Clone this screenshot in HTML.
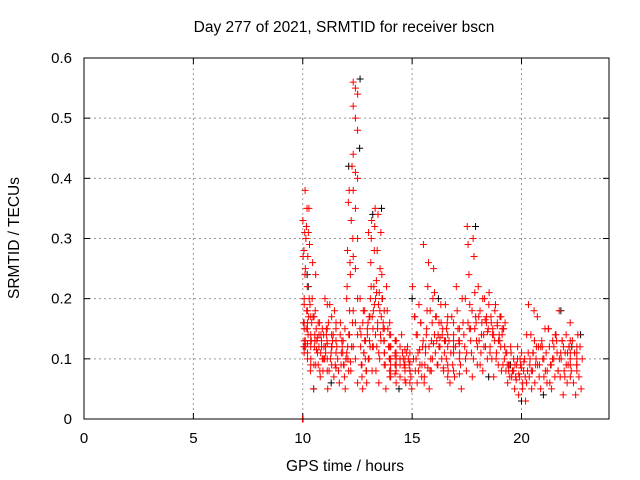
<!DOCTYPE html>
<html><head><meta charset="utf-8"><style>
body{margin:0;background:#fff}
svg{display:block;font-family:"Liberation Sans",sans-serif}
</style></head><body>
<svg id="chart" width="640" height="480">
<text x="344" y="32" font-size="15.5" text-anchor="middle">Day 277 of 2021, SRMTID for receiver bscn</text>
<text x="345" y="471" font-size="15.5" text-anchor="middle">GPS time / hours</text>
<text transform="translate(19,238) rotate(-90)" font-size="15.5" text-anchor="middle">SRMTID / TECUs</text>
<g id="grid"></g>
<g id="axes"></g>
<g id="black"></g>
<g id="red"></g>
<rect x="84" y="58" width="525" height="361" fill="none" stroke="#000" stroke-width="1"/>
</svg>
<script>
const xTicks=[0,5,10,15,20];
const yTicks=[0,0.1,0.2,0.3,0.4,0.5,0.6];
const yTickLabels=["0","0.1","0.2","0.3","0.4","0.5","0.6"];
const redBins=[
[9.98,10.02,[0,0,0,0]],
[10.0,10.12,[0.33,0.31,0.28,0.27,0.24,0.19,0.16,0.13,0.12,0.12]],
[10.1,10.3,[0.38,0.35,0.35,0.32,0.31,0.3,0.27,0.25,0.22,0.2,0.18,0.17,0.15,0.14,0.12,0.11]],
[10.3,10.6,[0.29,0.26,0.24,0.2,0.18,0.16,0.14,0.13,0.12,0.1,0.09,0.08,0.05,0.19,0.17]],
[10.6,11.0,[0.15,0.14,0.13,0.12,0.11,0.1,0.09,0.08,0.12,0.14,0.16,0.1,0.07]],
[11.0,11.5,[0.2,0.19,0.18,0.16,0.14,0.13,0.12,0.11,0.1,0.09,0.08,0.07,0.05,0.13,0.15,0.11]],
[11.5,12.0,[0.15,0.13,0.12,0.11,0.1,0.09,0.08,0.07,0.06,0.05,0.14,0.1,0.09]],
[12.0,12.3,[0.2,0.18,0.16,0.14,0.12,0.1,0.08,0.22,0.26,0.3,0.38,0.42,0.36,0.33,0.28,0.24]],
[12.3,12.6,[0.56,0.55,0.54,0.52,0.5,0.48,0.44,0.41,0.4,0.38,0.35,0.3,0.27,0.25,0.2,0.18,0.16,0.14,0.12,0.1,0.06]],
[12.6,13.0,[0.15,0.13,0.12,0.1,0.09,0.08,0.07,0.06,0.05,0.14,0.18,0.16,0.11]],
[13.0,13.3,[0.31,0.33,0.32,0.3,0.28,0.26,0.22,0.2,0.18,0.17,0.15,0.13,0.12,0.1,0.08]],
[13.3,13.6,[0.35,0.34,0.31,0.28,0.25,0.23,0.21,0.2,0.19,0.17,0.15,0.14,0.12,0.1,0.08,0.06]],
[13.6,14.0,[0.24,0.22,0.2,0.18,0.16,0.15,0.13,0.12,0.11,0.1,0.09,0.07,0.05]],
[14.0,14.5,[0.14,0.13,0.12,0.11,0.1,0.1,0.09,0.09,0.08,0.08,0.07,0.06,0.12,0.13]],
[14.5,15.0,[0.14,0.12,0.11,0.1,0.1,0.09,0.09,0.08,0.08,0.07,0.06,0.05,0.11]],
[15.0,15.5,[0.22,0.19,0.17,0.16,0.14,0.12,0.11,0.1,0.09,0.08,0.07,0.06]],
[15.5,16.0,[0.29,0.26,0.25,0.22,0.2,0.18,0.16,0.14,0.13,0.12,0.1,0.09,0.08,0.06,0.05]],
[16.0,16.5,[0.21,0.19,0.17,0.15,0.14,0.13,0.12,0.11,0.1,0.09,0.08,0.16]],
[16.5,17.0,[0.19,0.17,0.16,0.14,0.13,0.12,0.11,0.1,0.09,0.08,0.07,0.06]],
[17.0,17.5,[0.22,0.2,0.18,0.16,0.15,0.14,0.13,0.12,0.11,0.1,0.09,0.08,0.05]],
[17.5,18.0,[0.32,0.3,0.29,0.27,0.24,0.21,0.19,0.17,0.15,0.13,0.11,0.09,0.07]],
[18.0,18.5,[0.22,0.2,0.18,0.17,0.16,0.15,0.14,0.13,0.12,0.11,0.1,0.08]],
[18.5,19.0,[0.21,0.19,0.17,0.16,0.15,0.14,0.13,0.12,0.11,0.1,0.09,0.07]],
[19.0,19.3,[0.17,0.16,0.15,0.14,0.12,0.11,0.1,0.09,0.08]],
[19.3,19.8,[0.11,0.1,0.09,0.09,0.08,0.08,0.07,0.07,0.06,0.05,0.12]],
[19.8,20.3,[0.12,0.1,0.09,0.08,0.08,0.07,0.06,0.05,0.04,0.03,0.11]],
[20.3,20.7,[0.19,0.18,0.14,0.12,0.11,0.1,0.09,0.08,0.07,0.06,0.05]],
[20.7,21.2,[0.17,0.15,0.13,0.12,0.11,0.1,0.09,0.08,0.07,0.05]],
[21.2,21.7,[0.15,0.14,0.13,0.12,0.11,0.1,0.09,0.08,0.07,0.05]],
[21.7,22.2,[0.18,0.14,0.13,0.12,0.11,0.1,0.09,0.08,0.07,0.06,0.04]],
[22.2,22.8,[0.16,0.14,0.13,0.12,0.11,0.1,0.09,0.08,0.07,0.06,0.05,0.04]]
];
const redBinsDense=[
[10.05,10.5,[0.2,0.18,0.17,0.16,0.15,0.14,0.13,0.125,0.12,0.11,0.1,0.09,0.15,0.16,0.13]],
[10.5,11.1,[0.17,0.16,0.15,0.14,0.135,0.13,0.12,0.115,0.11,0.1,0.09,0.08,0.12,0.13,0.14,0.1]],
[11.1,11.7,[0.19,0.17,0.16,0.15,0.14,0.13,0.125,0.12,0.11,0.1,0.09,0.085,0.08,0.12,0.13]],
[11.7,12.2,[0.16,0.15,0.14,0.13,0.12,0.11,0.1,0.095,0.09,0.08,0.12,0.11]],
[12.6,13.1,[0.2,0.18,0.17,0.16,0.15,0.14,0.13,0.12,0.11,0.1,0.09,0.08]],
[13.1,13.7,[0.22,0.21,0.2,0.19,0.18,0.17,0.16,0.15,0.14,0.13,0.12,0.11]],
[13.7,14.2,[0.18,0.16,0.15,0.14,0.13,0.12,0.11,0.1,0.09,0.08]],
[14.2,15.1,[0.13,0.12,0.115,0.11,0.105,0.1,0.1,0.095,0.09,0.09,0.085,0.08,0.075,0.07,0.065,0.06,0.11,0.1,0.09,0.08]],
[15.1,15.8,[0.17,0.16,0.15,0.14,0.13,0.12,0.115,0.11,0.1,0.09,0.085,0.08,0.07]],
[15.8,16.6,[0.18,0.17,0.16,0.15,0.14,0.135,0.13,0.125,0.12,0.11,0.1,0.09,0.085,0.08,0.13,0.14]],
[16.6,17.4,[0.17,0.16,0.15,0.14,0.13,0.125,0.12,0.11,0.1,0.09,0.08,0.075,0.07,0.12,0.13]],
[17.4,18.2,[0.2,0.18,0.17,0.16,0.15,0.14,0.13,0.12,0.11,0.1,0.09,0.15,0.16]],
[18.2,19.2,[0.2,0.19,0.18,0.17,0.165,0.16,0.155,0.15,0.145,0.14,0.13,0.12,0.11,0.1,0.15,0.16,0.14,0.13]],
[19.2,20.2,[0.12,0.11,0.1,0.095,0.09,0.09,0.085,0.08,0.08,0.075,0.07,0.07,0.065,0.06,0.09,0.08,0.1]],
[20.2,21.2,[0.14,0.13,0.12,0.11,0.1,0.1,0.09,0.09,0.08,0.08,0.07,0.06,0.11,0.12]],
[21.2,22.2,[0.15,0.14,0.13,0.12,0.12,0.11,0.11,0.1,0.1,0.09,0.09,0.08,0.07,0.06,0.13,0.12]],
[22.2,22.8,[0.13,0.12,0.11,0.1,0.1,0.09,0.09,0.08,0.07,0.11]]
];
const blackPoints=[[10.2,0.24],[10.25,0.22],[10.5,0.05],[12.1,0.42],[12.62,0.565],[12.6,0.45],[13.2,0.34],[13.6,0.35],[14.4,0.05],[15.0,0.2],[17.9,0.32],[18.5,0.07],[20.0,0.03],[21.8,0.18],[22.7,0.14],[11.3,0.06],[16.2,0.2],[19.5,0.09],[21.0,0.04],[22.3,0.12]];
const X0=84,X1=609,Y0=419,Y1=58,XMAX=24,YMAX=0.6;
const sx=v=>X0+(X1-X0)*v/XMAX;
const sy=v=>Y0-(Y0-Y1)*v/YMAX;
const NS="http://www.w3.org/2000/svg";
function mk(tag,attrs,parent){const e=document.createElementNS(NS,tag);for(const k in attrs)e.setAttribute(k,attrs[k]);parent.appendChild(e);return e;}
const grid=document.getElementById('grid'),axes=document.getElementById('axes');
xTicks.forEach(t=>{
  const x=sx(t);
  if(t>0){const g=mk('line',{x1:x,x2:x,y1:Y1,y2:Y0,stroke:'#999','stroke-dasharray':'2,3'},grid);
  
  }
  mk('line',{x1:x,x2:x,y1:Y0,y2:Y0-6,stroke:'#000'},axes);
  mk('line',{x1:x,x2:x,y1:Y1,y2:Y1+6,stroke:'#000'},axes);
  const l=mk('text',{x:x,y:Y0+24,'font-size':15,'text-anchor':'middle'},axes);l.textContent=t;
  
  
});
yTicks.forEach((t,i)=>{
  const y=sy(t);
  if(t>0&&t<YMAX){const g=mk('line',{x1:X0,x2:X1,y1:y,y2:y,stroke:'#999','stroke-dasharray':'2,3'},grid);
  
  }
  mk('line',{x1:X0,x2:X0+6,y1:y,y2:y,stroke:'#000'},axes);
  mk('line',{x1:X1,x2:X1-6,y1:y,y2:y,stroke:'#000'},axes);
  const l=mk('text',{x:X0-12,y:y+5,'font-size':15,'text-anchor':'end'},axes);l.textContent=yTickLabels[i];
  
  
});
function plus(t,v,color,g){
  const x=sx(t),y=sy(v);
  const p=mk('path',{d:`M${x-3.5},${y}H${x+3.5}M${x},${y-3.5}V${y+3.5}`,stroke:color,'stroke-width':1,fill:'none'},g);
  
  
}
const bg=document.getElementById('black');
blackPoints.forEach(p=>plus(p[0],p[1],'#000',bg));
const rg=document.getElementById('red');
function drawBins(bins,k){bins.forEach(b=>{const n=b[2].length;b[2].forEach((v,i)=>{
  const t=b[0]+(b[1]-b[0])*((i*k)%n+0.5)/n;plus(t,v,'#f00',rg);});});}
drawBins(redBins,7);
drawBins(redBinsDense,5);
</script>
</body></html>
